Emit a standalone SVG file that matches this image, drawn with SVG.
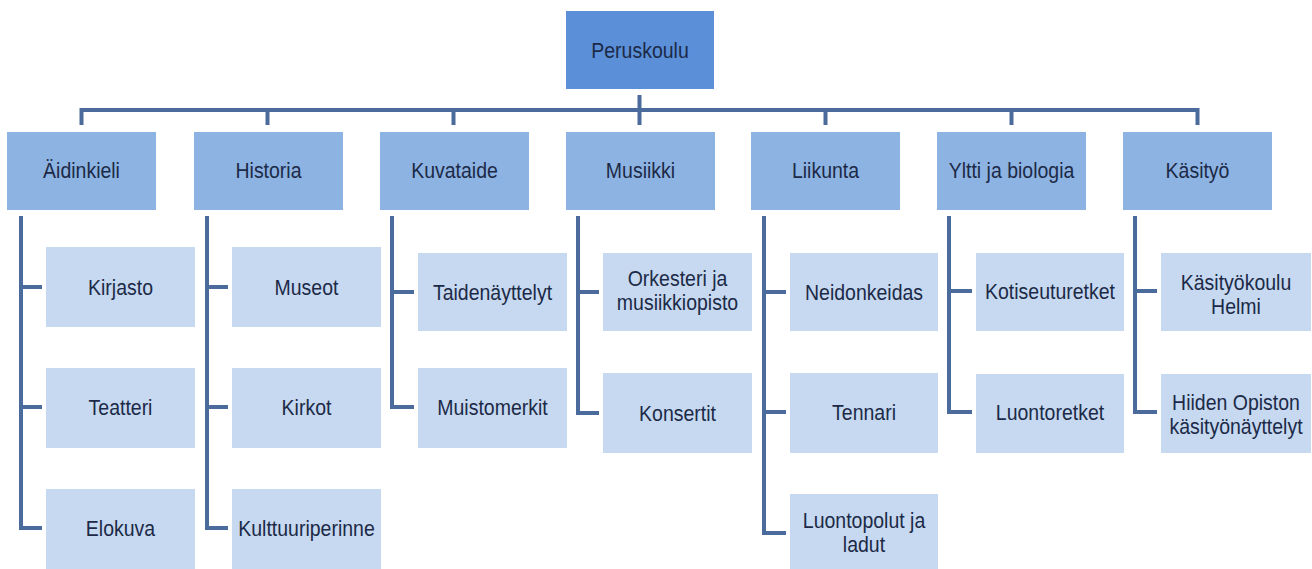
<svg xmlns="http://www.w3.org/2000/svg" width="1312" height="569" viewBox="0 0 1312 569">
<style>
.root{fill:#5b8fd8}
.l1{fill:#8db3e2}
.l2{fill:#c6d9f1}
text{font-family:"Liberation Sans",Arial,sans-serif;font-size:19.5px;fill:#1c2a47;text-anchor:middle}
.c{fill:none;stroke:#4a6b9c;stroke-width:4;stroke-linejoin:miter;stroke-linecap:butt}
</style>
<rect width="1312" height="569" fill="#ffffff"/>
<g id="connectors" class="c">
<path d="M639.5,95 V110"/>
<path d="M81.5,125 V110 H1197.5 V125"/>
<path d="M267.5,110 V125 M453.5,110 V125 M639.5,110 V125 M825.5,110 V125 M1011.5,110 V125"/>
<path d="M21,216 V528 H42 M21,287 H42 M21,407 H42"/>
<path d="M207,216 V528 H228 M207,287 H228 M207,407 H228"/>
<path d="M392,216 V407 H414 M392,292 H414"/>
<path d="M578,216 V413 H599 M578,292 H599"/>
<path d="M764,216 V533 H786 M764,292 H786 M764,412 H786"/>
<path d="M949,216 V412 H972 M949,291 H972"/>
<path d="M1135,216 V412 H1157 M1135,291 H1157"/>
</g>
<g id="n-peruskoulu"><rect class="root" x="566" y="11" width="148" height="78"/><text transform="translate(640,58) scale(1,1.12)">Peruskoulu</text></g>
<g id="n-aidinkieli"><rect class="l1" x="7" y="132" width="149" height="78"/><text transform="translate(81.5,178) scale(1,1.12)">Äidinkieli</text></g>
<g id="n-historia"><rect class="l1" x="194" y="132" width="149" height="78"/><text transform="translate(268.5,178) scale(1,1.12)">Historia</text></g>
<g id="n-kuvataide"><rect class="l1" x="380" y="132" width="149" height="78"/><text transform="translate(454.5,178) scale(1,1.12)">Kuvataide</text></g>
<g id="n-musiikki"><rect class="l1" x="566" y="132" width="149" height="78"/><text transform="translate(640.5,178) scale(1,1.12)">Musiikki</text></g>
<g id="n-liikunta"><rect class="l1" x="751" y="132" width="149" height="78"/><text transform="translate(825.5,178) scale(1,1.12)">Liikunta</text></g>
<g id="n-yltti"><rect class="l1" x="937" y="132" width="149" height="78"/><text transform="translate(1011.5,178) scale(1,1.12)">Yltti ja biologia</text></g>
<g id="n-kasityo"><rect class="l1" x="1123" y="132" width="149" height="78"/><text transform="translate(1197.5,178) scale(1,1.12)">Käsityö</text></g>

<g id="n-kirjasto"><rect class="l2" x="46" y="247" width="149" height="80"/><text transform="translate(120.5,295) scale(1,1.12)">Kirjasto</text></g>
<g id="n-teatteri"><rect class="l2" x="46" y="368" width="149" height="80"/><text transform="translate(120.5,415) scale(1,1.12)">Teatteri</text></g>
<g id="n-elokuva"><rect class="l2" x="46" y="489" width="149" height="80"/><text transform="translate(120.5,536) scale(1,1.12)">Elokuva</text></g>

<g id="n-museot"><rect class="l2" x="232" y="247" width="149" height="80"/><text transform="translate(306.5,295) scale(1,1.12)">Museot</text></g>
<g id="n-kirkot"><rect class="l2" x="232" y="368" width="149" height="80"/><text transform="translate(306.5,415) scale(1,1.12)">Kirkot</text></g>
<g id="n-kulttuuriperinne"><rect class="l2" x="232" y="489" width="149" height="80"/><text transform="translate(306.5,536) scale(1,1.12)">Kulttuuriperinne</text></g>

<g id="n-taidenayttelyt"><rect class="l2" x="418" y="253" width="149" height="78"/><text transform="translate(492.5,300) scale(1,1.12)">Taidenäyttelyt</text></g>
<g id="n-muistomerkit"><rect class="l2" x="418" y="368" width="149" height="80"/><text transform="translate(492.5,415) scale(1,1.12)">Muistomerkit</text></g>

<g id="n-orkesteri"><rect class="l2" x="603" y="253" width="149" height="78"/><text transform="translate(677.5,286) scale(1,1.12)">Orkesteri ja</text><text transform="translate(677.5,310) scale(1,1.12)">musiikkiopisto</text></g>
<g id="n-konsertit"><rect class="l2" x="603" y="373" width="149" height="80"/><text transform="translate(677.5,421) scale(1,1.12)">Konsertit</text></g>

<g id="n-neidonkeidas"><rect class="l2" x="790" y="253" width="148" height="78"/><text transform="translate(864,300) scale(1,1.12)">Neidonkeidas</text></g>
<g id="n-tennari"><rect class="l2" x="790" y="373" width="148" height="80"/><text transform="translate(864,420) scale(1,1.12)">Tennari</text></g>
<g id="n-luontopolut"><rect class="l2" x="790" y="494" width="148" height="75"/><text transform="translate(864,528) scale(1,1.12)">Luontopolut  ja</text><text transform="translate(864,552) scale(1,1.12)">ladut</text></g>

<g id="n-kotiseuturetket"><rect class="l2" x="976" y="253" width="148" height="78"/><text transform="translate(1050,299) scale(1,1.12)">Kotiseuturetket</text></g>
<g id="n-luontoretket"><rect class="l2" x="976" y="374" width="148" height="79"/><text transform="translate(1050,420) scale(1,1.12)">Luontoretket</text></g>

<g id="n-kasityokoulu"><rect class="l2" x="1161" y="253" width="150" height="78"/><text transform="translate(1236,290) scale(1,1.12)">Käsityökoulu</text><text transform="translate(1236,314) scale(1,1.12)">Helmi</text></g>
<g id="n-hiiden"><rect class="l2" x="1161" y="374" width="150" height="79"/><text transform="translate(1236,410) scale(1,1.12)">Hiiden  Opiston</text><text transform="translate(1236,434) scale(1,1.12)">käsityönäyttelyt</text></g>
</svg>
